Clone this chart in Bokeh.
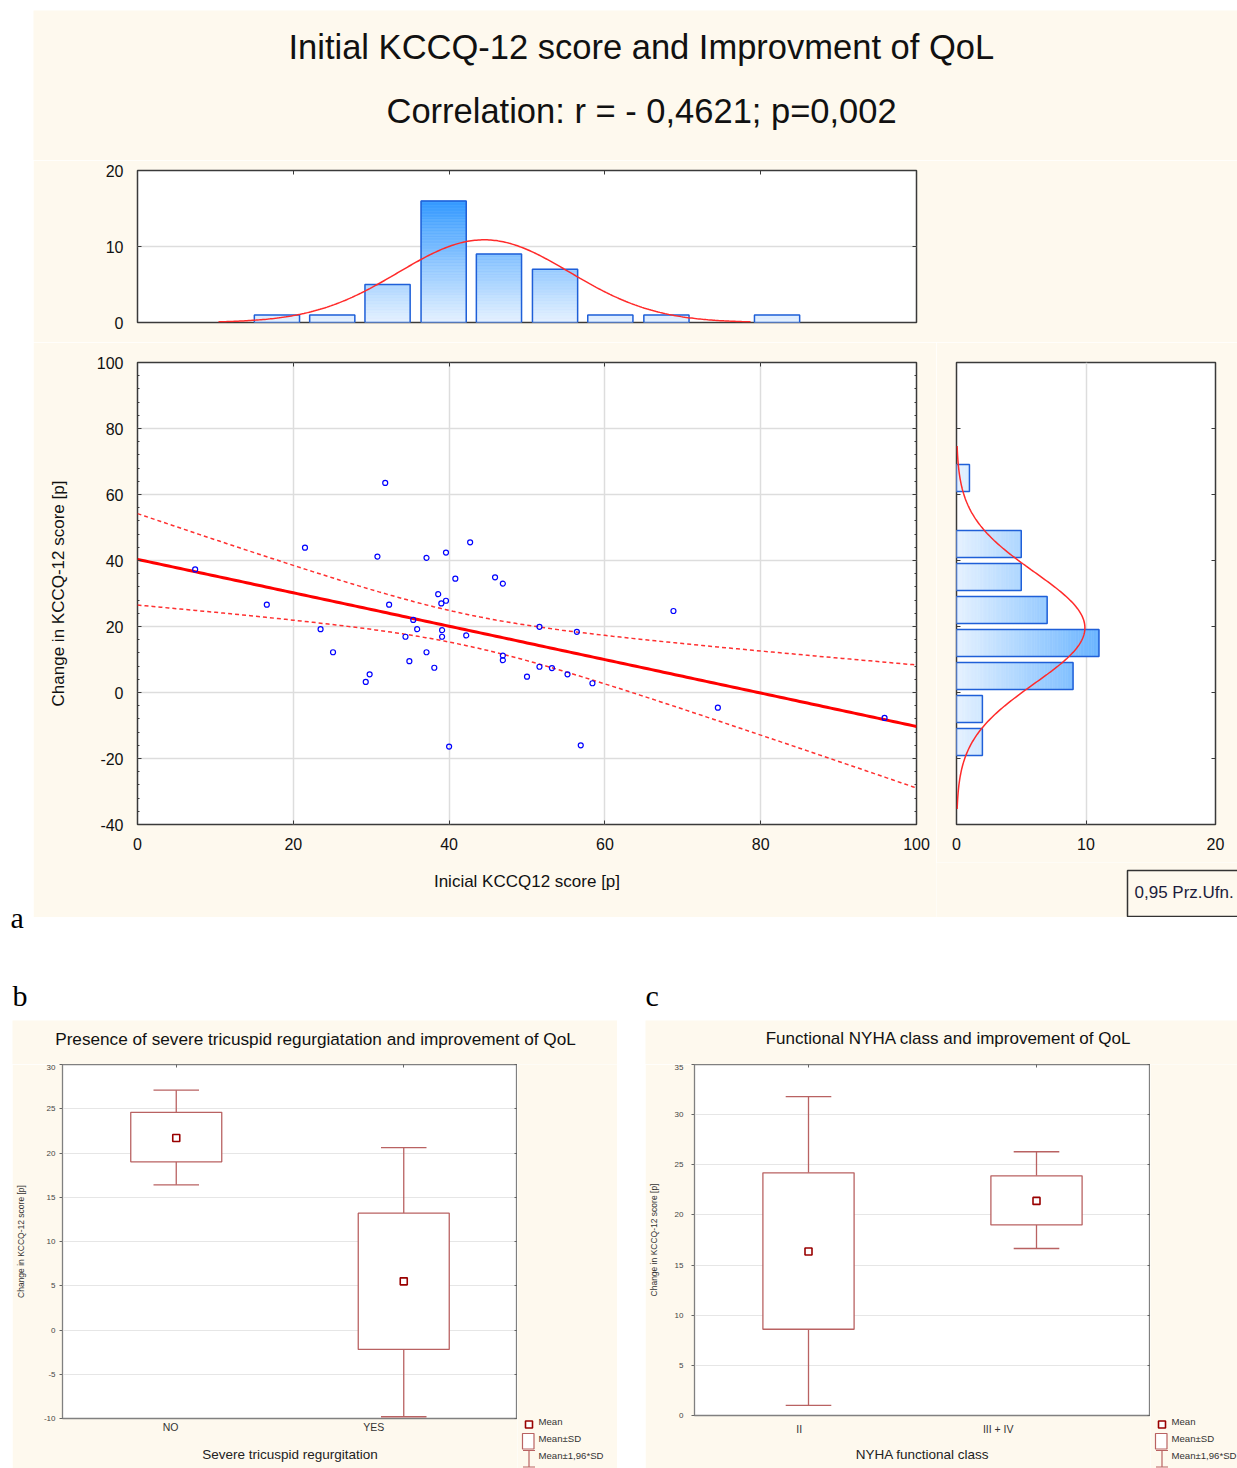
import numpy as np
from bokeh.plotting import figure
from bokeh.models import Range1d, LinearAxis, FixedTicker, SingleIntervalTicker, Spacer, PrintfTickFormatter
from bokeh.layouts import row, column
from bokeh.core.properties import value
from bokeh.embed import file_html
from bokeh.resources import INLINE

# ---------------- data ----------------
kccq_initial = [31.8, 21.5, 30.8, 37.1, 39.6, 42.7, 7.4, 40.8, 45.9, 46.9,
                38.6, 39.0, 39.6, 16.6, 32.3, 35.4, 35.9, 39.1, 39.1, 34.4,
                23.5, 42.2, 51.6, 25.1, 34.9, 37.1, 38.1, 29.8, 29.3, 46.9,
                46.9, 51.6, 50.0, 40.0, 56.4, 68.8, 53.2, 55.2, 58.4, 74.5,
                56.9, 95.9]
kccq_change = [63.5, 43.9, 41.2, 40.8, 42.4, 45.5, 37.3, 34.5, 34.9, 33.0,
               29.8, 27.0, 27.8, 26.6, 26.6, 22.0, 19.2, 18.9, 16.9, 16.9,
               19.2, 17.3, 19.9, 12.2, 9.5, 12.2, 7.5, 5.5, 3.2, 11.2,
               9.8, 7.8, 4.8, -16.4, 18.4, 24.7, 7.4, 5.5, 2.8, -4.6,
               -16.0, -7.7]

top_bin_centers = [17.9, 25.0, 32.1, 39.3, 46.4, 53.6, 60.7, 67.9, 75.0, 82.1]
top_bin_counts = [1, 1, 5, 16, 9, 7, 1, 1, 0, 1]
top_bin_width = 100.0 / 14
top_fit_mean, top_fit_sd = 44.5, 11.0
top_fit_span = (10.4, 78.7)

right_bin_centers = [65, 55, 45, 35, 25, 15, 5, -5, -15]
right_bin_counts = [1, 0, 5, 5, 7, 11, 9, 2, 2]
right_bin_width = 10.0
right_fit_mean, right_fit_sd = 19.6, 16.9
right_fit_span = (-35.3, 74.7)

tr_groups = ["NO", "YES"]
tr_mean = [21.7, 5.5]
tr_sd_low = [19.0, -2.2]
tr_sd_high = [24.6, 13.2]
tr_ci_low = [16.4, -9.8]
tr_ci_high = [27.1, 20.6]

nyha_groups = ["II", "III + IV"]
nyha_mean = [16.35, 21.4]
nyha_sd_low = [8.6, 19.0]
nyha_sd_high = [24.2, 23.9]
nyha_ci_low = [1.0, 16.65]
nyha_ci_high = [31.8, 26.3]

# ---------------- styles ----------------
CREAM = "#fef9ee"
FONT = "Liberation Sans"
SERIF = "Liberation Serif"
FRAME_A = "#3a3a3a"
GRID = "#dddddd"
TXT = "#111111"
BOXC = "#b96262"
MEANC = "#990000"
BAR_LINE = "#1f5fd8"
LIGHT = np.array([230, 242, 255])
DARK = np.array([51, 153, 255])
INT_FMT = "%d"


def grad(v, vmax):
    f = min(max(v / vmax, 0.0), 1.0)
    c = LIGHT + (DARK - LIGHT) * f
    return "#%02x%02x%02x" % tuple(int(round(t)) for t in c)


def canvas(w, h, bg=CREAM):
    p = figure(width=w, height=h, x_range=Range1d(0, w), y_range=Range1d(h, 0),
               x_axis_type=None, y_axis_type=None, toolbar_location=None,
               output_backend="svg", min_border=0)
    p.outline_line_color = None
    p.background_fill_color = bg
    p.border_fill_color = bg
    return p


def blank_axis(ax):
    ax.major_label_text_font_size = "0px"
    ax.major_label_text_color = None
    ax.major_label_standoff = 0
    ax.axis_line_color = None
    ax.major_tick_out = 0
    ax.minor_tick_out = 0


def in_axis(ticker, tick_in=4, minor_in=0, color=FRAME_A):
    ax = LinearAxis(ticker=ticker)
    blank_axis(ax)
    ax.major_tick_in = tick_in
    ax.major_tick_line_color = color
    ax.minor_tick_in = minor_in
    ax.minor_tick_line_color = color
    return ax


def style_labels(ax, size, standoff, color=TXT):
    ax.major_label_text_font = FONT
    ax.major_label_text_font_size = size
    ax.major_label_text_color = color
    ax.major_label_standoff = standoff
    ax.axis_line_color = None
    ax.major_tick_out = 0
    ax.minor_tick_out = 0


def style_axis_label(ax, text, size, standoff, color=TXT):
    ax.axis_label = text
    ax.axis_label_text_font = FONT
    ax.axis_label_text_font_size = size
    ax.axis_label_text_font_style = "normal"
    ax.axis_label_text_color = color
    ax.axis_label_standoff = standoff


vmax = float(max(top_bin_counts))

# ---------------- panel a: titles ----------------
titleA = canvas(1204, 150)
titleA.text(x=[255], y=[36], text=["Initial KCCQ-12 score and Improvment of QoL"],
            text_font=value(FONT), text_font_size=value("34.5px"), text_color=TXT,
            text_align="left", text_baseline="middle")
titleA.text(x=[353], y=[100], text=["Correlation: r = - 0,4621; p=0,002"],
            text_font=value(FONT), text_font_size=value("34.5px"), text_color=TXT,
            text_align="left", text_baseline="middle")

# ---------------- panel a: top histogram ----------------
th = figure(width=1204, height=182, x_range=Range1d(0, 100), y_range=Range1d(0, 20),
            x_axis_location="above", min_border_left=104, min_border_right=321,
            min_border_top=10, min_border_bottom=20, toolbar_location=None,
            output_backend="svg")
th.background_fill_color = "white"
th.border_fill_color = CREAM
th.outline_line_color = FRAME_A
th.outline_line_width = 1.5
xt_top = FixedTicker(ticks=[0, 20, 40, 60, 80, 100])
th.xaxis.ticker = xt_top
blank_axis(th.xaxis[0])
th.xaxis.major_tick_in = 4
th.xaxis.major_tick_line_color = FRAME_A
yt_top = FixedTicker(ticks=[0, 10, 20])
th.yaxis.ticker = yt_top
style_labels(th.yaxis[0], "16px", 14)
th.yaxis.major_tick_in = 4
th.yaxis.major_tick_line_color = FRAME_A
th.add_layout(in_axis(yt_top), "right")
th.xgrid.visible = False
th.ygrid.grid_line_color = GRID
th.ygrid.grid_line_width = 1.5

step = 0.2
bw_top = 5.8
L, R, B, T, C = [], [], [], [], []
for c, k in zip(top_bin_centers, top_bin_counts):
    y0 = 0.0
    while y0 < k - 1e-9:
        y1 = min(y0 + step, k)
        L.append(c - bw_top / 2); R.append(c + bw_top / 2)
        B.append(y0); T.append(y1); C.append(grad((y0 + y1) / 2, vmax))
        y0 = y1
th.quad(left=L, right=R, bottom=B, top=T, fill_color=C, line_color=C, line_width=0.6)
nz = [i for i, k in enumerate(top_bin_counts) if k > 0]
th.quad(left=[top_bin_centers[i] - bw_top / 2 for i in nz],
        right=[top_bin_centers[i] + bw_top / 2 for i in nz],
        bottom=0, top=[top_bin_counts[i] for i in nz],
        fill_color=None, line_color=BAR_LINE, line_width=1.5)
n_top = sum(top_bin_counts)
xc = np.linspace(top_fit_span[0], top_fit_span[1], 300)
yc = n_top * top_bin_width * np.exp(-0.5 * ((xc - top_fit_mean) / top_fit_sd) ** 2) / (top_fit_sd * np.sqrt(2 * np.pi))
th.line(xc, yc, line_color="#ff2a2a", line_width=1.5)

# ---------------- panel a: scatter ----------------
sc = figure(width=903, height=575, x_range=Range1d(0, 100), y_range=Range1d(-40, 100),
            min_border_left=104, min_border_right=20, min_border_top=20, min_border_bottom=93,
            toolbar_location=None, output_backend="svg")
sc.background_fill_color = "white"
sc.border_fill_color = CREAM
sc.outline_line_color = FRAME_A
sc.outline_line_width = 1.5
xt_sc = FixedTicker(ticks=[0, 20, 40, 60, 80, 100])
yt_sc = SingleIntervalTicker(interval=20, num_minor_ticks=5)
sc.xaxis.ticker = xt_sc
style_labels(sc.xaxis[0], "16px", 13)
sc.xaxis.major_tick_in = 4
sc.xaxis.major_tick_line_color = FRAME_A
style_axis_label(sc.xaxis[0], "Inicial KCCQ12 score [p]", "17px", 19)
sc.yaxis.ticker = yt_sc
sc.yaxis.formatter = PrintfTickFormatter(format=INT_FMT)
style_labels(sc.yaxis[0], "16px", 14)
sc.yaxis.major_tick_in = 4
sc.yaxis.minor_tick_in = 2
sc.yaxis.major_tick_line_color = FRAME_A
sc.yaxis.minor_tick_line_color = FRAME_A
style_axis_label(sc.yaxis[0], "Change in KCCQ-12 score [p]", "17px", 26)
sc.add_layout(in_axis(yt_sc, 4, 2), "right")
sc.add_layout(in_axis(xt_sc, 4), "above")
sc.grid.grid_line_color = GRID
sc.grid.grid_line_width = 1.5

xs = np.array(kccq_initial)
ys = np.array(kccq_change)
n = len(xs)
slope, intercept = np.polyfit(xs, ys, 1)
xbar = xs.mean()
sxx = ((xs - xbar) ** 2).sum()
s = np.sqrt(((ys - (intercept + slope * xs)) ** 2).sum() / (n - 2))
t95 = 2.021
xl = np.linspace(0, 100, 201)
yl = intercept + slope * xl
half = t95 * s * np.sqrt(1.0 / n + (xl - xbar) ** 2 / sxx)
sc.line(xl, yl + half, line_color="#ff3030", line_width=1.5, line_dash="4 3")
sc.line(xl, yl - half, line_color="#ff3030", line_width=1.5, line_dash="4 3")
sc.line(xl, yl, line_color="#ff0000", line_width=3)
sc.scatter(kccq_initial, kccq_change, marker="circle", size=5, fill_color=None,
           line_color="#0000ff", line_width=1.2)

# ---------------- panel a: right histogram ----------------
rh = figure(width=301, height=520, x_range=Range1d(0, 20), y_range=Range1d(-40, 100),
            min_border_left=20, min_border_right=22, min_border_top=20, min_border_bottom=38,
            toolbar_location=None, output_backend="svg")
rh.background_fill_color = "white"
rh.border_fill_color = CREAM
rh.outline_line_color = FRAME_A
rh.outline_line_width = 1.5
xt_rh = FixedTicker(ticks=[0, 10, 20])
yt_rh = SingleIntervalTicker(interval=20, num_minor_ticks=0)
rh.xaxis.ticker = xt_rh
style_labels(rh.xaxis[0], "16px", 13)
rh.xaxis.major_tick_in = 4
rh.xaxis.major_tick_line_color = FRAME_A
rh.yaxis.ticker = yt_rh
blank_axis(rh.yaxis[0])
rh.yaxis.major_tick_in = 4
rh.yaxis.major_tick_line_color = FRAME_A
rh.add_layout(in_axis(yt_rh, 4), "right")
rh.ygrid.visible = False
rh.xgrid.grid_line_color = GRID
rh.xgrid.grid_line_width = 1.5

bh_r = 8.2
L, R, B, T, C = [], [], [], [], []
for c, k in zip(right_bin_centers, right_bin_counts):
    x0 = 0.0
    while x0 < k - 1e-9:
        x1 = min(x0 + step, k)
        L.append(x0); R.append(x1)
        B.append(c - bh_r / 2); T.append(c + bh_r / 2); C.append(grad((x0 + x1) / 2, vmax))
        x0 = x1
rh.quad(left=L, right=R, bottom=B, top=T, fill_color=C, line_color=C, line_width=0.6)
nz = [i for i, k in enumerate(right_bin_counts) if k > 0]
rh.quad(left=0, right=[right_bin_counts[i] for i in nz],
        bottom=[right_bin_centers[i] - bh_r / 2 for i in nz],
        top=[right_bin_centers[i] + bh_r / 2 for i in nz],
        fill_color=None, line_color=BAR_LINE, line_width=1.5)
n_r = sum(right_bin_counts)
yc2 = np.linspace(right_fit_span[0], right_fit_span[1], 300)
xc2 = n_r * right_bin_width * np.exp(-0.5 * ((yc2 - right_fit_mean) / right_fit_sd) ** 2) / (right_fit_sd * np.sqrt(2 * np.pi))
rh.line(xc2, yc2, line_color="#ff2a2a", line_width=1.5)

# legend box "0,95 Prz.Ufn."
lg = canvas(301, 55)
lg.quad(left=[191], right=[312], top=[8], bottom=[54], fill_color=CREAM,
        line_color="#333333", line_width=1.5)
lg.text(x=[198], y=[30], text=["0,95 Prz.Ufn."], text_font=value(FONT),
        text_font_size=value("17px"), text_color="#1c1c3c", text_baseline="middle")

# canvases are wrapped in their own row/column so that their frames are not aligned
panelA = column(Spacer(width=1204, height=10), row(titleA), th, row(sc, column(rh, row(lg))))

gap = canvas(1204, 103, "white")
gap.text(x=[612], y=[78], text=["c"], text_font=value(SERIF),
         text_font_size=value("30px"), text_color="black", text_baseline="alphabetic")

strip = canvas(33, 1020, "white")
strip.text(x=[10, 12], y=[917, 995], text=["a", "b"], text_font=value(SERIF),
           text_font_size=value("30px"), text_color="black", text_baseline="alphabetic")

top_block = row(column(strip), column(panelA, row(gap)))


# ---------------- panels b and c ----------------
def box_panel(groups, means, sdl, sdh, cil, cih, y0, y1, left, bottom, shifts, xlabel,
              tick_standoff, ylab_standoff, cat_standoff, xlab_standoff):
    p = figure(width=505, height=404, x_range=Range1d(0, len(groups)), y_range=Range1d(y0, y1),
               min_border_left=left, min_border_right=0, min_border_top=0,
               min_border_bottom=bottom, toolbar_location=None, output_backend="svg")
    p.background_fill_color = "white"
    p.border_fill_color = CREAM
    p.outline_line_color = "#808080"
    p.outline_line_width = 1.3
    pos = [i + 0.5 for i in range(len(groups))]
    lab_pos = [round(c + s_, 3) for c, s_ in zip(pos, shifts)]
    xa = p.xaxis[0]
    xa.ticker = FixedTicker(ticks=lab_pos)
    xa.major_label_overrides = {lp: g for lp, g in zip(lab_pos, groups)}
    style_labels(xa, "10.5px", cat_standoff, "#333333")
    xa.major_tick_in = 0
    style_axis_label(xa, xlabel, "13.5px", xlab_standoff, "#222222")
    yt = SingleIntervalTicker(interval=5, num_minor_ticks=0)
    ya = p.yaxis[0]
    ya.ticker = yt
    ya.formatter = PrintfTickFormatter(format=INT_FMT)
    style_labels(ya, "8px", tick_standoff, "#444444")
    ya.major_tick_out = 3
    ya.major_tick_in = 0
    ya.major_tick_line_color = "#666666"
    style_axis_label(ya, "Change in KCCQ-12 score [p]", "8.5px", ylab_standoff, "#333333")
    p.add_layout(in_axis(yt, 3, 0, "#666666"), "right")
    p.add_layout(in_axis(FixedTicker(ticks=pos), 3, 0, "#666666"), "above")
    p.xgrid.visible = False
    p.ygrid.grid_line_color = "#e6e6e6"
    p.ygrid.grid_line_width = 1.2
    p.segment(x0=pos, y0=sdh, x1=pos, y1=cih, line_color=BOXC, line_width=1.3)
    p.segment(x0=pos, y0=cil, x1=pos, y1=sdl, line_color=BOXC, line_width=1.3)
    p.segment(x0=[c - 0.1 for c in pos], y0=cih, x1=[c + 0.1 for c in pos], y1=cih,
              line_color=BOXC, line_width=1.3)
    p.segment(x0=[c - 0.1 for c in pos], y0=cil, x1=[c + 0.1 for c in pos], y1=cil,
              line_color=BOXC, line_width=1.3)
    p.quad(left=[c - 0.2 for c in pos], right=[c + 0.2 for c in pos], bottom=sdl, top=sdh,
           fill_color="white", line_color=BOXC, line_width=1.3)
    p.scatter(pos, means, marker="square", size=7, fill_color="white",
              line_color=MEANC, line_width=1.6)
    return p


def legend_fig(w):
    p = canvas(w, 404)
    p.scatter([11.5], [360], marker="square", size=7, fill_color="white",
              line_color=MEANC, line_width=1.6)
    p.quad(left=[5], right=[16.5], top=[369], bottom=[384.5], fill_color="white",
           line_color=BOXC, line_width=1.2)
    p.segment(x0=[11.5, 5.5, 5.5], y0=[386, 386, 402.5], x1=[11.5, 17.5, 17.5],
              y1=[402.5, 386, 402.5], line_color=BOXC, line_width=1.2)
    p.text(x=[21, 21, 21], y=[356.5, 374, 390.5], text=["Mean", "Mean±SD", "Mean±1,96*SD"],
           text_font=value(FONT), text_font_size=value("9.6px"), text_color="#333333",
           text_baseline="middle")
    return column(p)


def title_fig(w, txt, size):
    p = canvas(w, 44)
    p.text(x=[303], y=[18], text=[txt], text_font=value(FONT), text_font_size=value(size),
           text_color=TXT, text_align="center", text_baseline="middle")
    return row(p)


boxB = box_panel(tr_groups, tr_mean, tr_sd_low, tr_sd_high, tr_ci_low, tr_ci_high,
                 -10, 30, 46, 50, [-0.025, -0.132], "Severe tricuspid regurgitation",
                 4, 15, 2, 11)
panelB = column(title_fig(605, "Presence of severe tricuspid regurgiatation and improvement of QoL", "17.2px"),
                row(boxB, legend_fig(100)))

boxC = box_panel(nyha_groups, nyha_mean, nyha_sd_low, nyha_sd_high, nyha_ci_low, nyha_ci_high,
                 0, 35, 47, 53, [-0.041, -0.168], "NYHA functional class",
                 8, 13, 7, 9)
panelC = column(title_fig(592, "Functional NYHA class and improvement of QoL", "17px"),
                row(boxC, legend_fig(87)))

bottom_row = row(Spacer(width=12, height=448), panelB, Spacer(width=28, height=448), panelC)

page = column(top_block, bottom_row)

open("out.html", "w").write(file_html(page, INLINE))
